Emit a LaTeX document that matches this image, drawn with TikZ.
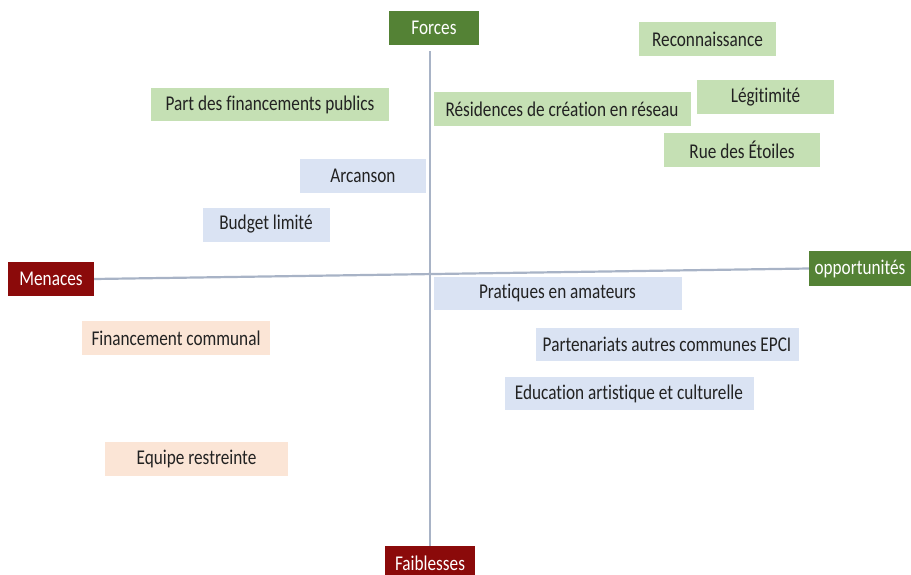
\documentclass[tikz,border=0pt]{standalone}
\usepackage{fontspec}
\usepackage{graphicx}
\setmainfont[Ligatures=NoCommon]{Carlito}
\definecolor{hgreen}{HTML}{548235}
\definecolor{hred}{HTML}{8B0A0A}
\definecolor{lgreen}{HTML}{C5E0B4}
\definecolor{lblue}{HTML}{DAE3F3}
\definecolor{lpeach}{HTML}{FBE5D6}
\definecolor{axisc}{HTML}{A8B3C6}
\definecolor{txt}{HTML}{222222}
\newcommand\sq[1]{\scalebox{0.82}[1]{#1}}
\tikzset{
  hdr/.style={inner sep=0pt, text=white, font=\fontsize{21}{21}\selectfont},
  itm/.style={inner sep=0pt, text=txt, font=\fontsize{21}{21}\selectfont},
  axisline/.style={draw=axisc, line width=2.2pt}
}
\begin{document}
\begin{tikzpicture}[x=1pt,y=-1pt]
\useasboundingbox (0,0) rectangle (911,574);
% headers
\node[hdr, fill=hgreen, minimum width=90pt, minimum height=34pt] (forces) at (434,28) {\sq{Forces}};
\node[hdr, fill=hred, minimum width=86pt, minimum height=34pt] (menaces) at (51,279) {\sq{Menaces}};
\node[hdr, fill=hgreen, minimum width=102pt, minimum height=35pt] (opp) at (860,268.5) {\sq{opportunités}};
\node[hdr, fill=hred, minimum width=90pt, minimum height=34pt] (faib) at (430,563) {\sq{Faiblesses}};
% axes
\coordinate (vtop) at (430,51);
\coordinate (vbot) at (430,546);
\draw[axisline] (vtop) -- (vbot);
\draw[axisline] (menaces.east) -- (opp.west);
% items
\node[itm, fill=lgreen, minimum width=137pt, minimum height=34pt] (reco) at (707.5,39) {\sq{Reconnaissance}};
\node[itm, fill=lgreen, minimum width=238pt, minimum height=33pt] (part) at (270,104.5) {\sq{Part des financements publics}};
\node[itm, fill=lgreen, minimum width=257pt, minimum height=34pt] (resid) at (562,109) {\sq{Résidences de création en réseau}};
\node[itm, fill=lgreen, minimum width=137pt, minimum height=34pt] (legit) at (765.5,97) {\sq{Légitimité}};
\node[itm, fill=lgreen, minimum width=156pt, minimum height=34pt] (rue) at (742,150) {\sq{Rue des Étoiles}};
\node[itm, fill=lblue, minimum width=126pt, minimum height=34pt] (arc) at (363,175.5) {\sq{Arcanson}};
\node[itm, fill=lblue, minimum width=127pt, minimum height=34pt] (budget) at (266,224.5) {\sq{Budget limité}};
\node[itm, fill=lblue, minimum width=248pt, minimum height=33pt] (prat) at (557.5,293) {\sq{Pratiques en amateurs}};
\node[itm, fill=lblue, minimum width=263pt, minimum height=33pt] (parten) at (667,344.5) {\sq{Partenariats autres communes EPCI}};
\node[itm, fill=lblue, minimum width=249pt, minimum height=33pt] (educ) at (629,393.5) {\sq{Education artistique et culturelle}};
\node[itm, fill=lpeach, minimum width=188pt, minimum height=34pt] (fin) at (176,338) {\sq{Financement communal}};
\node[itm, fill=lpeach, minimum width=183pt, minimum height=34pt] (equipe) at (196.5,459) {\sq{Equipe restreinte}};
\end{tikzpicture}
\end{document}
